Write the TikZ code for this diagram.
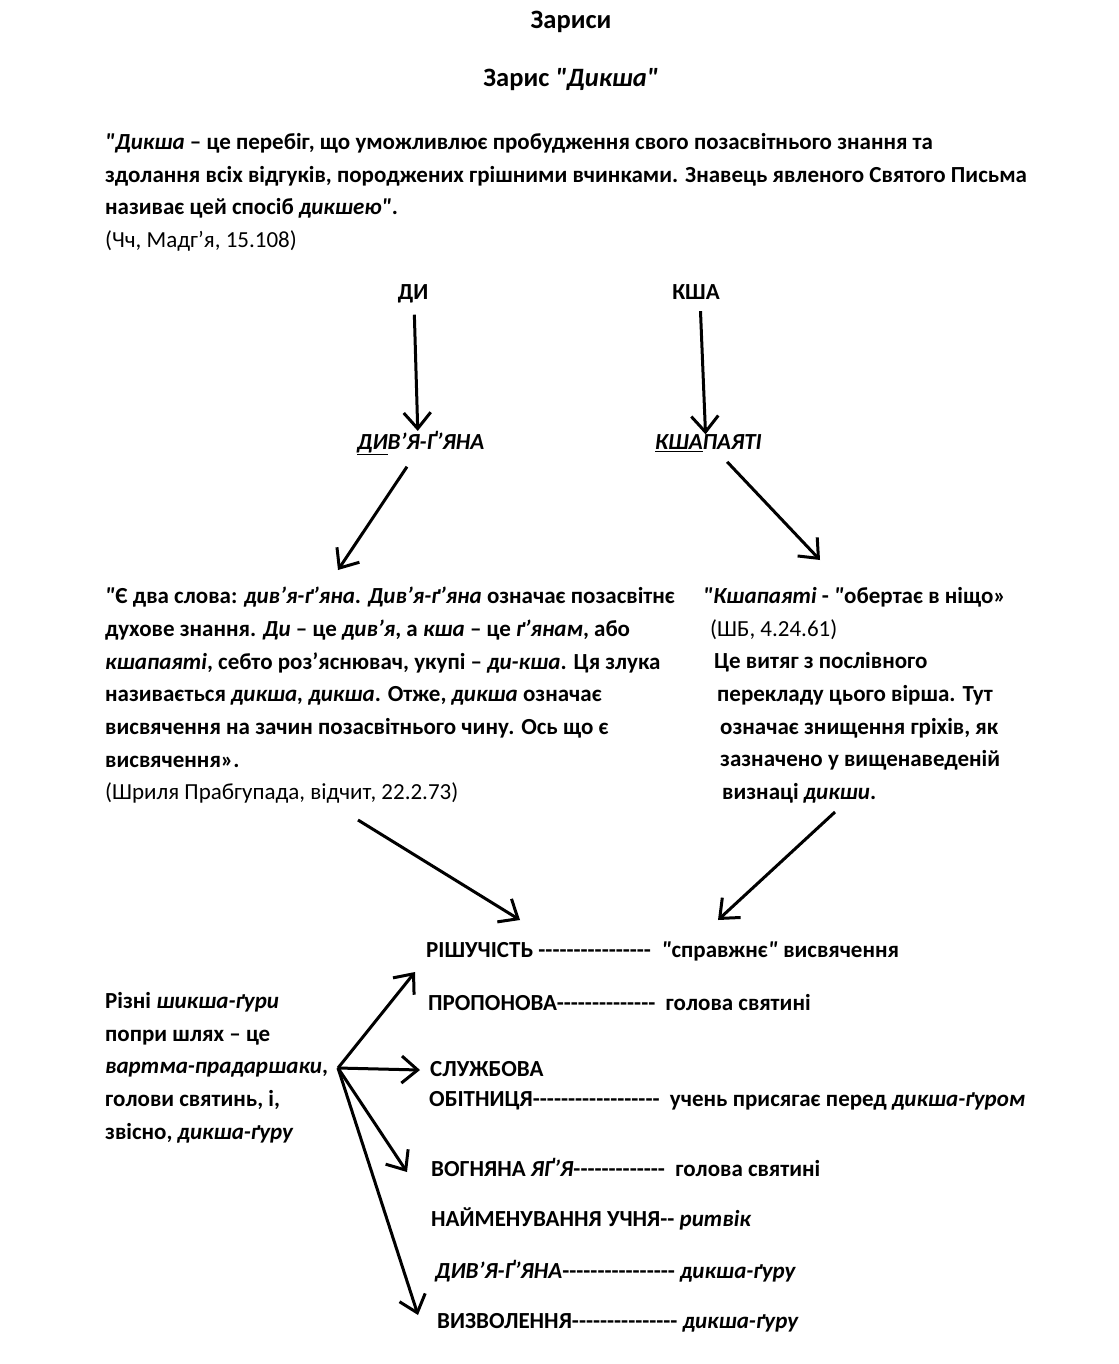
\documentclass[tikz,border=0pt]{standalone}
\usepackage{fontspec}
\setmainfont{Carlito}[Ligatures=TeXOff]
\usetikzlibrary{arrows.meta,positioning}

\newcommand{\bodyfont}{\fontsize{23}{32.7}\selectfont\bfseries}
\newcommand{\q}{\textit{"}}

\begin{document}
\begin{tikzpicture}[x=1pt,y=-1pt,
  tx/.style={anchor=west,inner sep=0pt,font=\bodyfont,align=left},
  blk/.style={tx,anchor=north west},
  arr/.style={-{Straight Barb[length=16pt,width=27pt,line width=3pt]},line width=3pt}]
  \useasboundingbox (0,0) rectangle (1118,1364);
  % headings
  \node[font=\fontsize{26.5}{30}\selectfont\bfseries](title) at (571,22){Зариси};
  \node[font=\fontsize{26.5}{30}\selectfont\bfseries](subtitle) at (571,80){Зарис \q\textit{Дикша}\q};
  % definition
  \node[blk](defn) at (105,133){\q\textit{Дикша} – це перебіг, що уможливлює пробудження свого позасвітнього знання та\\
    здолання всіх відгуків, породжених грішними вчинками. Знавець явленого Святого Письма\\
    називає цей спосіб \textit{дикшею}\q.\\
    \mdseries(Чч, Мадг’я, 15.108)};
  % roots
  \node[tx,anchor=base,font=\fontsize{23}{26}\selectfont\bfseries](di) at (413,299){ДИ};
  \node[tx,anchor=base,font=\fontsize{23}{26}\selectfont\bfseries](ksha) at (696,299){КША};
  \node[tx](divya) at (357,443){\textit{\underline{ДИ}В’Я-Ґ’ЯНА}};
  \node[tx](kshap) at (655,443){\textit{\underline{КША}ПАЯТІ}};
  \draw[arr,shorten <=12pt] ([xshift=1pt]di.south) -- ([xshift=-3pt]divya.north);
  \draw[arr,shorten <=12pt] ([xshift=4pt]ksha.south) -- ([xshift=-3pt]kshap.north);
  % quotes
  \node[blk](quote) at (105,587){\q Є два слова: \textit{див’я-ґ’яна}. \textit{Див’я-ґ’яна} означає позасвітнє\\
    духове знання. \textit{Ди} – це \textit{див’я}, а \textit{кша} – це \textit{ґ’янам}, або\\
    \textit{кшапаяті}, себто роз’яснювач, укупі – \textit{ди-кша}. Ця злука\\
    називається \textit{дикша, дикша}. Отже, \textit{дикша} означає\\
    висвячення на зачин позасвітнього чину. Ось що є\\
    висвячення».\\
    \mdseries(Шриля Прабгупада, відчит, 22.2.73)};
  \node[blk](note) at (703,587){\textit{"Кшапаяті} - \q обертає в ніщо»\\
    \hspace*{7pt}\mdseries(ШБ, 4.24.61)\\
    \hspace*{11pt}Це витяг з послівного\\
    \hspace*{14pt}перекладу цього вірша. Тут\\
    \hspace*{17pt}означає знищення гріхів, як\\
    \hspace*{17pt}зазначено у вищенаведеній\\
    \hspace*{19pt}визнаці \textit{дикши}.};
  \coordinate (qin) at (338,570);
  \coordinate (nin) at (820,560);
  \draw[arr,shorten <=14pt] ([xshift=-6pt]divya.south) -- (qin);
  \draw[arr,shorten <=14pt] ([xshift=9pt]kshap.south) -- (nin);
  % stages
  \node[tx](resh) at (426,951){РІШУЧІСТЬ ----------------~ \q справжнє\q{} висвячення};
  \node[tx](prop) at (428,1003){ПРОПОНОВА--------------~ голова святині};
  \node[tx](sluzh) at (430,1069){СЛУЖБОВА};
  \node[tx](obit) at (429,1101){ОБІТНИЦЯ------------------~ учень присягає перед \textit{дикша-ґуром}};
  \node[tx](vogn) at (431,1167){ВОГНЯНА \textit{ЯҐ’Я}-------------~ голова святині};
  \node[tx](naim) at (431,1219){НАЙМЕНУВАННЯ УЧНЯ-- \textit{ритвік}};
  \node[tx](dgyana) at (435,1271){\textit{ДИВ’Я-Ґ’ЯНА}---------------- \textit{дикша-ґуру}};
  \node[tx](vyzv) at (437,1323){ВИЗВОЛЕННЯ--------------- \textit{дикша-ґуру}};
  \coordinate (qout) at (358,820);
  \coordinate (nout) at (835,812);
  \coordinate (rin1) at (520,920);
  \coordinate (rin2) at (718,920);
  \draw[arr] (qout) -- (rin1);
  \draw[arr] (nout) -- (rin2);
  % gurus
  \node[blk](gurus) at (105,992){Різні \textit{шикша-ґури}\\
    попри шлях – це\\
    \textit{вартма-прадаршаки},\\
    голови святинь, і,\\
    звісно, \textit{дикша-ґуру}};
  \coordinate (fan) at (338,1068);
  \coordinate (f1) at (415,972);
  \coordinate (f2) at (420,1070);
  \coordinate (f3) at (407,1172);
  \coordinate (f4) at (418,1315);
  \foreach \t in {f1,f2,f3,f4}
    \draw[arr] (fan) -- (\t);
\end{tikzpicture}
\end{document}
